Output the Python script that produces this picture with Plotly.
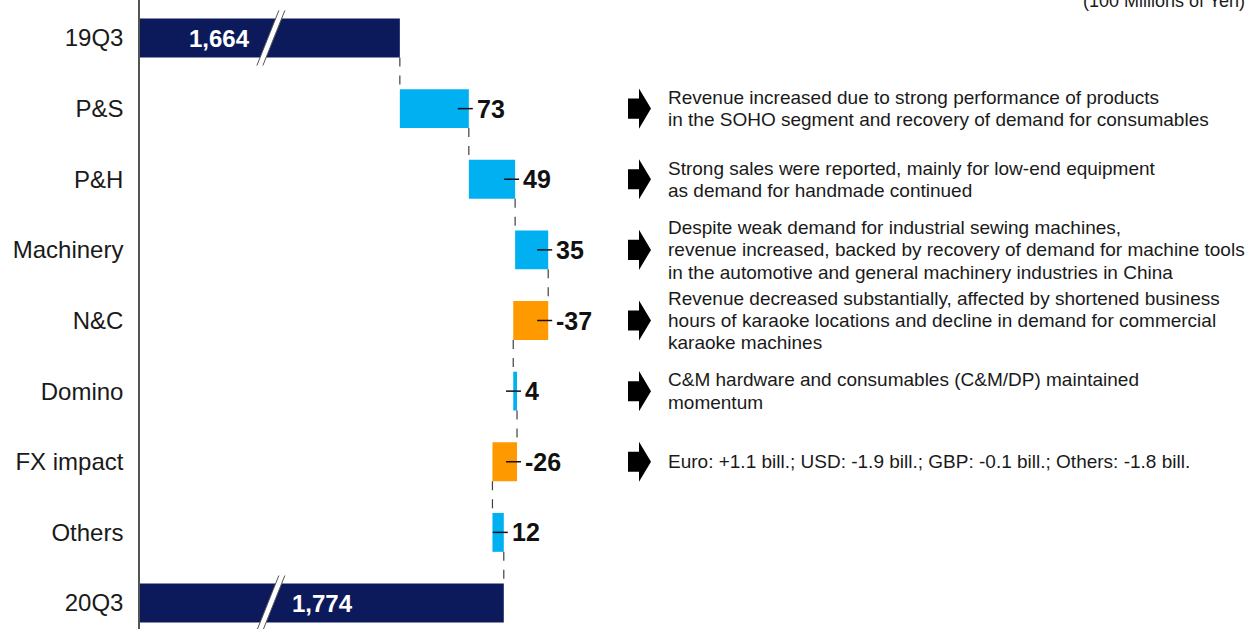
import plotly.graph_objects as go

# ---------------- data ----------------
categories = ["19Q3", "P&S", "P&H", "Machinery", "N&C", "Domino", "FX impact", "Others", "20Q3"]
start_total = 1664
deltas = [73, 49, 35, -37, 4, -26, 12]
end_total = 1774
delta_labels = ["73", "49", "35", "-37", "4", "-26", "12"]
total_labels = ["1,664", "1,774"]
comments = [
    ["Revenue increased due to strong performance of products",
     "in the SOHO segment and recovery of demand for consumables"],
    ["Strong sales were reported, mainly for low-end equipment",
     "as demand for handmade continued"],
    ["Despite weak demand for industrial sewing machines,",
     "revenue increased, backed by recovery of demand for machine tools",
     "in the automotive and general machinery industries in China"],
    ["Revenue decreased substantially, affected by shortened business",
     "hours of karaoke locations and decline in demand for commercial",
     "karaoke machines"],
    ["C&M hardware and consumables (C&M/DP) maintained",
     "momentum"],
    ["Euro: +1.1 bill.; USD: -1.9 bill.; GBP: -0.1 bill.; Others: -1.8 bill."],
]
unit_note = "(100 Millions of Yen)"

# ---------------- styles ----------------
NAVY = "#0c1a5b"
CYAN = "#00b0f0"
ORANGE = "#ff9900"
FONT = "Arial, Liberation Sans, sans-serif"
W, H = 1255, 629
ML = 140
X0, X1 = 1389, 2569          # visible value window (broken axis)
BAR_W = 0.55
PX = (W - ML) / (X1 - X0)     # pixels per unit
ROW_PX = 70.6
BREAK_X = 1527.5
LINE_PX = 22.3

def px_to_paper(p):
    return (p - ML) / (W - ML)

# waterfall geometry
cum = [start_total]
for d in deltas:
    cum.append(cum[-1] + d)
bases = [cum[i] for i in range(len(deltas))]
ends = cum[1:]
colors = [CYAN if d >= 0 else ORANGE for d in deltas]

fig = go.Figure()

# total bars
fig.add_trace(go.Bar(
    y=[0, len(categories) - 1], x=[start_total, end_total], base=[0, 0],
    orientation="h", width=BAR_W, marker=dict(color=NAVY, line=dict(width=0)),
    hoverinfo="skip", showlegend=False,
))
# delta bars
fig.add_trace(go.Bar(
    y=list(range(1, len(deltas) + 1)), x=deltas, base=bases,
    orientation="h", width=BAR_W, marker=dict(color=colors, line=dict(width=0)),
    hoverinfo="skip", showlegend=False,
))

shapes = []
annotations = []

# connectors
for i in range(len(cum)):
    shapes.append(dict(type="line", xref="x", yref="y",
                       x0=cum[i], x1=cum[i], y0=i + BAR_W / 2, y1=i + 1 - BAR_W / 2,
                       line=dict(color="#404040", width=1.2, dash="dash")))

# leaders + value labels
for i, d in enumerate(deltas):
    edge = max(bases[i], ends[i])
    yv = i + 1
    shapes.append(dict(type="line", xref="x", yref="y",
                       x0=edge - 11 / PX, x1=edge + 4 / PX, y0=yv, y1=yv,
                       line=dict(color="#111111", width=1.5)))
    annotations.append(dict(x=edge, y=yv, xref="x", yref="y", text=delta_labels[i],
                            showarrow=False, xanchor="left", yanchor="middle", xshift=6,
                            font=dict(family=FONT, size=25, color="#111111", weight="bold")))

# total labels
annotations.append(dict(x=BREAK_X, y=0, xref="x", yref="y", text=total_labels[0],
                        showarrow=False, xanchor="right", yanchor="middle", xshift=-19,
                        font=dict(family=FONT, size=24, color="white", weight="bold")))
annotations.append(dict(x=BREAK_X, y=len(categories) - 1, xref="x", yref="y",
                        text=total_labels[1], showarrow=False, xanchor="left", yanchor="middle",
                        xshift=19,
                        font=dict(family=FONT, size=24, color="white", weight="bold")))

# axis-break marks
for yc in [0, len(categories) - 1]:
    half_h = 0.39
    dx = 11 / PX
    gap = 3 / PX
    x_top_l, x_top_r = BREAK_X + dx - gap, BREAK_X + dx + gap
    x_bot_l, x_bot_r = BREAK_X - dx - gap, BREAK_X - dx + gap
    y_top, y_bot = yc - half_h, yc + half_h
    shapes.append(dict(type="path", xref="x", yref="y",
                       path=f"M {x_bot_l} {y_bot} L {x_top_l} {y_top} L {x_top_r} {y_top} L {x_bot_r} {y_bot} Z",
                       fillcolor="white", line=dict(width=0)))
    for xb, xt in [(x_bot_l, x_top_l), (x_bot_r, x_top_r)]:
        shapes.append(dict(type="line", xref="x", yref="y", x0=xb, y0=y_bot, x1=xt, y1=y_top,
                           line=dict(color="#555555", width=1)))

# block arrows + comments
A0, A1, A2 = px_to_paper(628), px_to_paper(639), px_to_paper(651)
sh, hh = 10 / ROW_PX, 20 / ROW_PX
for j, lines in enumerate(comments):
    yv = j + 1
    shapes.append(dict(type="path", xref="paper", yref="y",
                       path=(f"M {A0} {yv - sh} L {A1} {yv - sh} L {A1} {yv - hh} L {A2} {yv} "
                             f"L {A1} {yv + hh} L {A1} {yv + sh} L {A0} {yv + sh} Z"),
                       fillcolor="black", line=dict(width=0)))
    n = len(lines)
    for k, line in enumerate(lines):
        off = (k - (n - 1) / 2) * LINE_PX / ROW_PX
        annotations.append(dict(x=px_to_paper(666), y=yv + off, xref="paper", yref="y", text=line,
                                showarrow=False, xanchor="left", yanchor="middle", align="left",
                                font=dict(family=FONT, size=19, color="#1a1a1a")))

# unit note (partially cut at the top)
annotations.append(dict(x=1, y=1, xref="paper", yref="paper", text=unit_note, showarrow=False,
                        xanchor="right", yanchor="bottom", xshift=-8, yshift=-13,
                        font=dict(family=FONT, size=18, color="#1a1a1a")))

fig.update_layout(
    width=W, height=H,
    margin=dict(l=ML, r=0, t=0, b=0),
    paper_bgcolor="white", plot_bgcolor="white",
    barmode="overlay",
    shapes=shapes, annotations=annotations,
    xaxis=dict(range=[X0, X1], visible=False, fixedrange=True),
    yaxis=dict(range=[8.368, -0.538], tickvals=list(range(len(categories))), ticktext=categories,
               showgrid=False, zeroline=False, showline=True, linecolor="#555555", linewidth=1.5,
               ticks="", ticklabelstandoff=10,
               tickfont=dict(family=FONT, size=24, color="#1a1a1a"), fixedrange=True),
    font=dict(family=FONT),
)

fig.write_html("out.html", config={"displayModeBar": False})
